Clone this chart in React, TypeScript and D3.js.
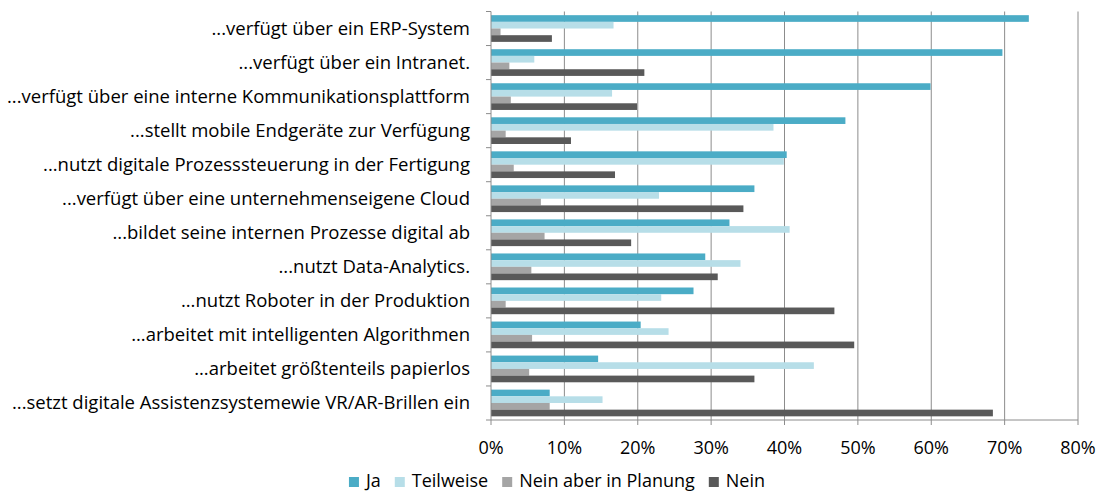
import React, { useEffect, useRef } from 'react';
import * as d3 from 'd3';

const categories = [
  '...verfügt über ein ERP-System',
  '...verfügt über ein Intranet.',
  '...verfügt über eine interne Kommunikationsplattform',
  '...stellt mobile Endgeräte zur Verfügung',
  '...nutzt digitale Prozesssteuerung in der Fertigung',
  '...verfügt über eine unternehmenseigene Cloud',
  '...bildet seine internen Prozesse digital ab',
  '...nutzt Data-Analytics.',
  '...nutzt Roboter in der Produktion',
  '...arbeitet mit intelligenten Algorithmen',
  '...arbeitet größtenteils papierlos',
  '...setzt digitale Assistenzsystemewie VR/AR-Brillen ein',
];

const seriesNames = ['Ja', 'Teilweise', 'Nein aber in Planung', 'Nein'];
const seriesColors = ['#4BACC6', '#B7DEE8', '#A5A5A5', '#595959'];

const ja = [73.3, 69.7, 59.9, 48.3, 40.3, 35.9, 32.5, 29.2, 27.6, 20.4, 14.6, 8.0];
const teilweise = [16.7, 5.9, 16.5, 38.5, 39.9, 22.9, 40.7, 34.0, 23.2, 24.2, 44.0, 15.2];
const planung = [1.3, 2.5, 2.7, 2.0, 3.1, 6.8, 7.3, 5.5, 2.0, 5.6, 5.2, 8.0];
const nein = [8.3, 20.9, 19.9, 10.9, 16.9, 34.4, 19.1, 30.9, 46.8, 49.5, 35.9, 68.4];

const xTicks = [0, 10, 20, 30, 40, 50, 60, 70, 80];

const W = 1096;
const H = 493;
const FONT = '"Open Sans", Lato, sans-serif';
const FS = 18.5;

const App = () => {
  const svgRef = useRef<SVGSVGElement>(null);

  useEffect(() => {
    const svg = d3.select(svgRef.current);
    svg.selectAll('*').remove();

    const left = 491;
    const right = 1078;
    const top = 11.5;
    const bottom = 420;

    const values = [ja, teilweise, planung, nein];

    const x = d3.scaleLinear().domain([0, 80]).range([left, right]);
    const y = d3.scaleBand<string>().domain(categories).range([top, bottom]).padding(0);
    const inner = d3
      .scaleBand<number>()
      .domain(d3.range(seriesNames.length))
      .range([0, y.bandwidth()])
      .paddingInner(0)
      .paddingOuter(0.55);

    // gridlines
    svg.append('g')
      .selectAll('line')
      .data(xTicks.slice(1))
      .join('line')
      .attr('x1', d => x(d))
      .attr('x2', d => x(d))
      .attr('y1', top)
      .attr('y2', bottom)
      .attr('stroke', '#8C8C8C')
      .attr('stroke-width', 1);

    // bars
    values.forEach((vals, si) => {
      svg.append('g')
        .selectAll('rect')
        .data(vals)
        .join('rect')
        .attr('x', x(0))
        .attr('y', (_, i) => (y(categories[i]) as number) + (inner(si) as number))
        .attr('width', d => x(d) - x(0))
        .attr('height', inner.bandwidth())
        .attr('fill', seriesColors[si]);
    });

    // y axis
    const yAxis = svg.append('g').attr('transform', `translate(${left},0)`);
    yAxis.append('line')
      .attr('x1', 0).attr('x2', 0).attr('y1', top).attr('y2', bottom)
      .attr('stroke', '#8C8C8C');
    yAxis.selectAll('line.tick')
      .data(d3.range(categories.length + 1))
      .join('line')
      .attr('class', 'tick')
      .attr('x1', -5).attr('x2', 0)
      .attr('y1', i => top + i * y.bandwidth())
      .attr('y2', i => top + i * y.bandwidth())
      .attr('stroke', '#8C8C8C');
    yAxis.selectAll('text')
      .data(categories)
      .join('text')
      .attr('x', -21)
      .attr('y', d => (y(d) as number) + y.bandwidth() / 2)
      .attr('dy', '0.35em')
      .attr('text-anchor', 'end')
      .attr('font-family', FONT)
      .attr('font-size', FS)
      .attr('fill', '#000')
      .text(d => d);

    // x axis
    const xAxis = svg.append('g').attr('transform', `translate(0,${bottom})`);
    xAxis.append('line')
      .attr('x1', left).attr('x2', right).attr('y1', 0).attr('y2', 0)
      .attr('stroke', '#8C8C8C');
    xAxis.selectAll('line.tick')
      .data(xTicks)
      .join('line')
      .attr('class', 'tick')
      .attr('x1', d => x(d)).attr('x2', d => x(d))
      .attr('y1', 0).attr('y2', 5)
      .attr('stroke', '#8C8C8C');
    xAxis.selectAll('text')
      .data(xTicks)
      .join('text')
      .attr('x', d => x(d))
      .attr('y', 28)
      .attr('dy', '0.35em')
      .attr('text-anchor', 'middle')
      .attr('font-family', FONT)
      .attr('font-size', 18)
      .attr('fill', '#000')
      .text(d => `${d}%`);

    // legend
    const legend = svg.append('g').attr('transform', `translate(0,${H - 12})`);
    const items = legend.selectAll('g')
      .data(seriesNames)
      .join('g');
    items.append('rect')
      .attr('y', -4)
      .attr('width', 10)
      .attr('height', 10)
      .attr('fill', (_, i) => seriesColors[i]);
    items.append('text')
      .attr('x', 17)
      .attr('dy', '0.35em')
      .attr('font-family', FONT)
      .attr('font-size', 18)
      .attr('fill', '#000')
      .text(d => d);

    let cx = 0;
    const offsets: number[] = [];
    items.each(function () {
      const t = d3.select(this).select('text').node() as SVGTextElement;
      offsets.push(cx);
      cx += 17 + t.getComputedTextLength() + 14;
    });
    const total = cx - 14;
    const startX = 557 - total / 2;
    items.attr('transform', (_, i) => `translate(${startX + offsets[i]},0)`);
  }, []);

  return (
    <svg
      ref={svgRef}
      width={W}
      height={H}
      style={{ position: 'absolute', left: 0, top: 0, background: '#fff' }}
    />
  );
};

export default App;
